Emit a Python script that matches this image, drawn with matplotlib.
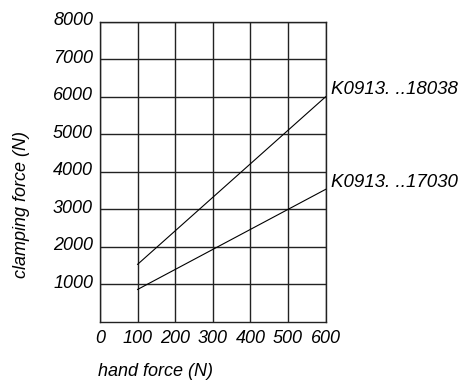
import matplotlib
matplotlib.use('Agg')
import matplotlib.pyplot as plt
import matplotlib.transforms as mtransforms
import numpy as np

# data
hand_force = [100, 600]
clamp_18038 = [1530, 6000]
clamp_17030 = [860, 3530]
series_labels = ['K0913. ..18038', 'K0913. ..17030']
x_ticks = [0, 100, 200, 300, 400, 500, 600]
y_ticks = [1000, 2000, 3000, 4000, 5000, 6000, 7000, 8000]

plt.rcParams['font.family'] = ['Liberation Sans', 'DejaVu Sans']
plt.rcParams['font.style'] = 'italic'

fig = plt.figure(figsize=(4.68, 3.83), dpi=100)
ax = fig.add_axes([100 / 468, 1 - 321.7 / 383, 225.7 / 468, 300 / 383])

ax.plot(hand_force, clamp_18038, color='black', lw=0.8)
ax.plot(hand_force, clamp_17030, color='black', lw=0.8)

ax.set_xlim(0, 600)
ax.set_ylim(0, 8000)
ax.set_xticks(x_ticks)
ax.set_yticks(y_ticks)
ax.set_xticklabels([str(v) for v in x_ticks], fontsize=13)
ax.set_yticklabels([str(v) for v in y_ticks], fontsize=13)
ax.tick_params(length=0, pad=5)
ax.tick_params(axis='x', pad=6)
# y labels sit a little above their grid lines in the original
shift = mtransforms.ScaledTranslation(0, 2 / 72, fig.dpi_scale_trans)
for lab in ax.get_yticklabels():
    lab.set_transform(lab.get_transform() + shift)
ax.grid(True, color='#222222', lw=1.0)
for s in ax.spines.values():
    s.set_color('#222222')
    s.set_linewidth(1.0)

# labels at the right end of each line
ax.annotate(series_labels[0], xy=(hand_force[-1], clamp_18038[-1]), xytext=(4, 5),
            textcoords='offset points', fontsize=13.5, va='center', ha='left',
            annotation_clip=False)
ax.annotate(series_labels[1], xy=(hand_force[-1], clamp_17030[-1]), xytext=(4, 5),
            textcoords='offset points', fontsize=13.5, va='center', ha='left',
            annotation_clip=False)

fig.text(155 / 468, 1 - 372 / 383, 'hand force (N)', fontsize=13, ha='center', va='center')
fig.text(22 / 468, 1 - 205 / 383, 'clamping force (N)', fontsize=13, ha='center', va='center',
         rotation=90)

fig.savefig('out.png', dpi=100)
